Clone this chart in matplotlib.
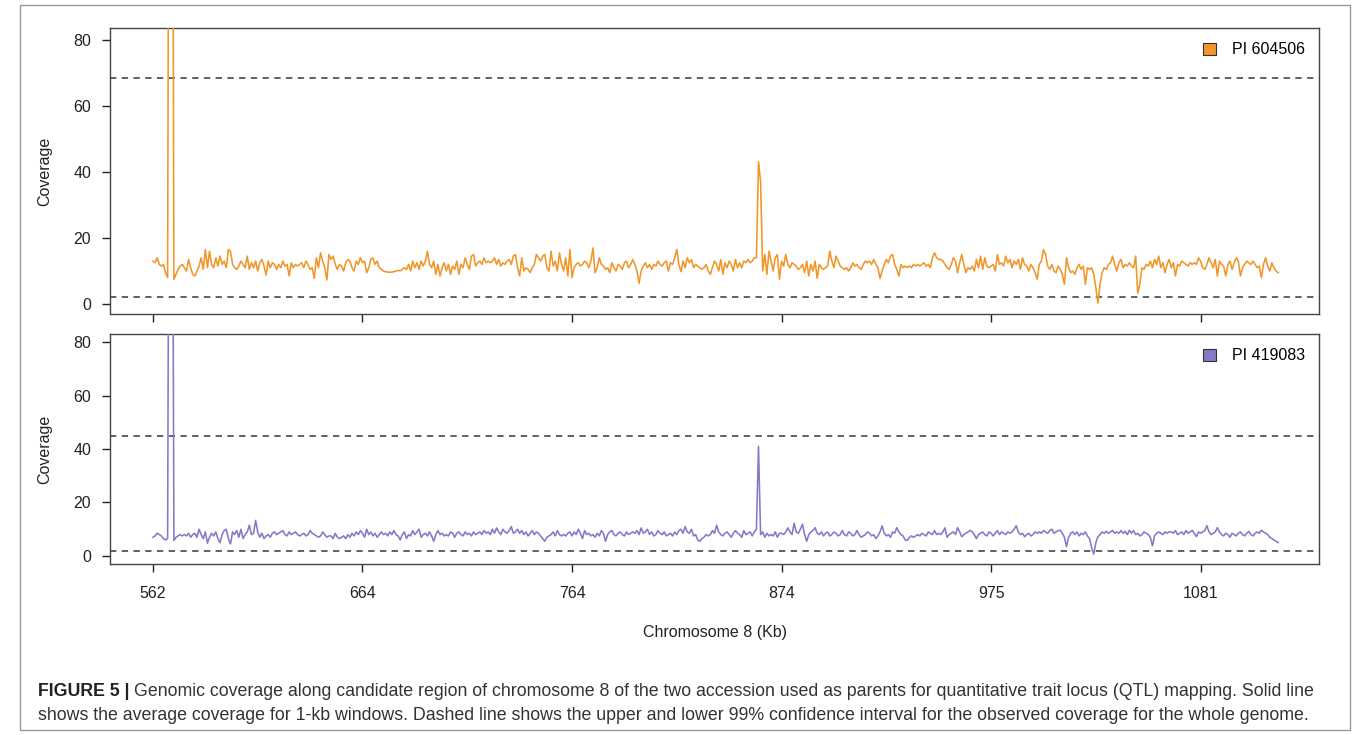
import numpy as np
import matplotlib
matplotlib.use("Agg")
import matplotlib.pyplot as plt
from matplotlib.patches import Patch, Rectangle

plt.rcParams['font.family'] = ['Liberation Sans', 'DejaVu Sans']

# window index ticks and their chromosome positions (kb)
tick_pos = [0, 100, 200, 300, 400, 500]
tick_labels = ['562', '664', '764', '874', '975', '1081']

# average coverage per 1-kb window, PI 604506
cov_604506 = [
    13, 12.5, 14, 12, 11.5, 12, 9.5, 8, 260, 250,
    7.5, 9, 10.5, 11.5, 12, 11, 10, 13.5, 11, 9,
    8.5, 10, 11.5, 14, 10.5, 16.5, 11, 16, 12, 11,
    14, 11.5, 14.5, 12, 13, 11, 16.5, 16, 12, 11,
    10.5, 11.5, 13, 12, 11, 14.5, 10.5, 12.5, 11, 13,
    10, 12.5, 13.5, 11.5, 8.8, 13, 11, 12.5, 12, 10.5,
    12, 11, 13, 11.5, 12, 8.5, 12.5, 11, 12, 11.5,
    12, 12.5, 11, 13, 12, 10.5, 11, 7.8, 14, 11,
    15.5, 13, 11, 7.3, 15, 13.5, 14.5, 12, 10.5, 12,
    11.5, 10, 12.5, 13.5, 13, 11, 10, 13, 12, 14,
    12.5, 13, 9.5, 11, 13.5, 14, 12, 13, 11, 10.5,
    10, 9.8, 9.7, 9.6, 9.7, 9.8, 10, 10.2, 10, 10.5,
    11, 10.5, 12, 10, 13, 11, 12.5, 10.5, 13, 11.5,
    13, 16, 12, 11, 13, 9, 12, 8.5, 11, 12.5,
    10, 12, 9, 11.5, 10.5, 13, 9, 12, 11, 14,
    12, 10.5, 14.5, 15, 11.5, 12.5, 13, 12, 14, 12.5,
    13, 12.5, 13, 14, 12, 13.5, 11.5, 12.5, 12, 13,
    13.5, 12, 14.5, 15, 11, 8.5, 14, 10, 11, 10.5,
    9.5, 11, 12, 15, 14, 13, 14.5, 15, 11, 10,
    16, 11.5, 13, 10, 15.5, 12, 10, 14, 8.5, 16.5,
    8, 11, 12, 12.5, 11.5, 12, 13, 12.5, 11, 13,
    17, 9.5, 11, 14, 12, 11.5, 10.5, 11, 9.5, 12.5,
    11, 10, 12, 11.5, 10.5, 12.5, 13, 11, 12, 13.5,
    12, 10, 6.3, 10, 11.5, 12.5, 11, 12, 10.5, 12,
    11.5, 13, 12, 11.5, 12.5, 13, 10, 12.5, 12, 14,
    16.5, 12, 9.8, 13, 11, 14, 12.5, 13.5, 11, 12,
    11.5, 11, 10.5, 11, 12, 10, 9, 11, 13, 12,
    10, 13.5, 9, 12.5, 11, 13, 12, 10, 13.5, 11,
    12.5, 11, 13, 12.5, 13.5, 12.5, 13, 14, 14, 43,
    37, 10, 15, 9, 16, 13, 10, 14, 15, 7.5,
    13, 11.5, 15, 12, 11, 12.5, 12, 11.5, 10.5, 11,
    12, 9.5, 13, 8.5, 12, 10, 13, 7.8, 12, 11,
    10.5, 11, 11.5, 16, 13, 11, 14.5, 13, 11.5, 11,
    10.5, 11, 10, 11, 12.5, 11.5, 12, 11, 10.5, 12,
    13, 12.5, 13, 12, 13.5, 12, 11, 7.8, 10, 12,
    13.5, 12.5, 14.5, 15, 12, 10.5, 8.5, 12, 11, 11.5,
    11, 11.5, 11, 12, 11.5, 12, 11.5, 12, 12.5, 11.5,
    12, 11, 14, 15.5, 14, 13.5, 13.5, 13, 12, 11,
    10.5, 12, 14, 13, 9.5, 12.5, 15, 12, 9.5, 11,
    10.5, 11.5, 10, 13.5, 11, 14.5, 10.5, 14, 11.5, 11,
    11.5, 12, 10, 15, 12, 12.5, 11.5, 14.5, 12.5, 13.5,
    11, 13, 12, 13.5, 10.5, 14, 12, 11.5, 10, 12,
    11, 9.5, 7.5, 12, 13, 16.5, 15, 11.5, 10.5, 12,
    10, 9.5, 11.5, 10.5, 9, 6, 14, 11, 9.5, 10,
    9, 11, 12, 10.5, 11.5, 6, 11, 10.5, 11, 9,
    5, 0.3, 6, 9.5, 11, 10.5, 12, 12.5, 14.5, 12,
    10, 12.5, 13.5, 11, 12, 11.5, 12.5, 11.5, 11, 14.5,
    3.3, 6, 11, 10.5, 12, 11.5, 13, 11, 13.5, 12,
    14.5, 11, 12.5, 9.5, 12, 13.5, 11, 12.5, 8.5, 12,
    11.5, 13, 12.5, 12, 11.5, 12.5, 12, 12.5, 12, 14,
    13, 11, 10.5, 12, 14, 12.5, 11, 13.5, 8.5, 13,
    12, 11.5, 8.5, 12, 13, 10.5, 12.5, 14, 13, 8.5,
    11, 12, 13, 12.5, 12, 13, 12, 11, 11.5, 8,
    12, 14, 11.5, 10, 12.5, 11, 10, 9.5,
]

# average coverage per 1-kb window, PI 419083
cov_419083 = [
    7, 7.5, 8.5, 8, 7.5, 6.5, 6, 6.5, 250, 240,
    5.8, 7, 7.5, 8, 7.5, 8, 7.5, 8.5, 7, 8,
    8.5, 7, 10, 8, 6.5, 9, 4.8, 7, 8.5, 7.5,
    9, 6.5, 5, 8, 9.5, 10, 6.5, 4.5, 9, 8,
    9.5, 7, 10, 6.5, 8, 9, 11.5, 8, 8.5, 13.3,
    9, 7, 8.5, 6.5, 7.5, 8, 7, 8.5, 9, 8,
    8.5, 9, 9.5, 8, 7.5, 9, 8, 8.5, 9, 8,
    7.5, 8, 8.5, 7.5, 8, 9.5, 8.5, 8, 7.5, 7,
    7.5, 9, 8, 7, 7.5, 7.5, 6.5, 8.5, 7, 6.5,
    7, 7.5, 6.5, 8, 7, 8.5, 7.5, 9, 8, 9.5,
    8.5, 7, 10, 8, 9, 7.5, 8.5, 7, 8, 9,
    8, 8.5, 7.5, 9, 8, 9.5, 8, 7.5, 6, 8,
    9, 6.5, 8, 7.5, 9.5, 8, 9, 10, 7, 8,
    8.5, 7.5, 9, 7.5, 5.5, 8, 9.5, 8, 8.5, 7.5,
    8, 7.5, 9, 8.5, 7, 8.5, 9, 8, 7.5, 9,
    8, 8.5, 7.5, 9, 8, 8.5, 9, 8, 9.5, 8.5,
    9, 8, 10, 8.5, 10.5, 9, 8, 10, 9, 8.5,
    9.5, 11, 8.5, 9, 10, 8.5, 9.5, 8, 9, 7.5,
    8.5, 9.5, 8, 9, 8.5, 7.5, 6.5, 5.5, 7, 7.5,
    8, 9, 7.5, 9.5, 8, 7.5, 8, 7.5, 8.5, 9,
    7.5, 9, 8, 10, 8.5, 6.5, 9.5, 8, 8.5, 7.5,
    8, 7, 8.5, 7.5, 9.5, 8.5, 5.5, 8, 9, 9.5,
    8, 7.5, 8.5, 9, 8, 7.5, 9, 8, 8.5, 9,
    8.5, 9.5, 8, 10.5, 8.5, 9, 10, 8, 9, 7.5,
    8, 9.5, 8.5, 8, 9, 7.5, 8, 8.5, 7.5, 9,
    8, 9.5, 10, 8.5, 11, 9, 8.5, 10, 7.5, 8,
    6, 5.5, 6.5, 7, 8, 7.5, 8, 9.5, 8.5, 11.5,
    9, 8, 7.5, 8.5, 9, 8, 7, 8.5, 9.5, 8.5,
    8, 7, 9.5, 8, 8.5, 9, 7.5, 9, 10, 41,
    8, 9, 7, 8.5, 7.5, 8, 7.5, 9, 7, 8.5,
    8.5, 8, 9, 10.5, 9, 8, 12.2, 9, 8.5, 10,
    11.9, 8, 5.5, 8, 9, 9.5, 10.6, 8.5, 8, 9,
    7.5, 8.5, 9, 7.5, 8, 9, 8.5, 7.5, 8, 9.5,
    8, 7.5, 9, 8.5, 7.5, 8, 9.5, 8, 7, 7.5,
    8, 9, 8.5, 7.5, 8, 6.5, 7.5, 9, 11.3, 8.5,
    7.5, 8, 7, 9, 8.5, 10.6, 9, 8, 7.5, 6,
    5.8, 7, 7.5, 7, 7.5, 8, 7.5, 8.5, 8, 7.5,
    9, 8.5, 8, 9.5, 8, 8.5, 8, 9, 10.5, 7,
    8, 8.5, 9, 8, 10.6, 9, 7.2, 8, 8.5, 9,
    9.6, 9, 8, 6.5, 8, 8.5, 9, 8, 7.5, 9,
    8.5, 7.5, 8.5, 9.5, 8, 9, 8.5, 8, 9, 8.5,
    9, 10, 11.3, 9, 8, 8.5, 7.2, 8, 8.5, 7.5,
    8, 9, 8.5, 9, 8.5, 9.5, 9, 8.5, 9.5, 10,
    8.5, 9, 9.5, 9.6, 8.5, 7, 3.5, 7, 8.5, 9,
    8, 9, 7.5, 8.5, 8, 9, 7.5, 6.5, 3, 0.7,
    5, 7.2, 8, 9, 8.5, 9.2, 8.5, 9, 9.5, 8.5,
    9, 8.5, 9.5, 8.5, 9.2, 8, 9.6, 8.5, 9.5, 8,
    8.5, 7.5, 8, 9, 8.5, 8, 7, 3.8, 7.5, 8.5,
    9, 8.5, 8, 9, 8.5, 9, 9, 8.5, 9.5, 8,
    8.5, 9, 8, 9.5, 8.5, 9, 9.6, 8.5, 7.2, 9,
    8.5, 9, 9.5, 11.3, 9, 8, 8.5, 9, 10.6, 9,
    8, 7.5, 8.5, 8, 7, 8.5, 8, 7.5, 8.5, 9,
    8, 7.5, 8.5, 9.2, 8, 7.5, 8.5, 9, 8.5, 9.6,
    9, 8.5, 8, 7, 6.5, 6, 5.5, 5,
]

# genome-wide 99% confidence interval (lower, upper)
ci_604506 = [2.1, 68.5]
ci_419083 = [1.9, 45.0]

names = ['PI 604506', 'PI 419083']
colors = ['#f0962a', '#8579c8']

W, H = 1360, 735
fig = plt.figure(figsize=(W / 100, H / 100), dpi=100)
ax1 = fig.add_axes([110 / W, 1 - 314 / H, 1209 / W, 286 / H])
ax2 = fig.add_axes([110 / W, 1 - 564 / H, 1209 / W, 230 / H])

panels = [(ax1, cov_604506, ci_604506), (ax2, cov_419083, ci_419083)]
for i, (ax, cov, ci) in enumerate(panels):
    x = np.arange(len(cov))
    ax.plot(x, cov, color=colors[i], lw=1.15, zorder=3)
    for lvl in ci:
        ax.axhline(lvl, color='#555555', lw=1.3, ls=(0, (3.5, 3)), zorder=2)
    ax.set_xlim(-20.5, 556.5)
    ax.set_ylim(-3, 83.5 if i == 0 else 83.0)
    ax.set_yticks([0, 20, 40, 60, 80])
    ax.set_xticks(tick_pos)
    ax.tick_params(direction='out', length=5.5, width=1, labelsize=11.5,
                   colors='#222222')
    ax.tick_params(axis='y', pad=8)
    ax.tick_params(axis='x', pad=10)
    for s in ax.spines.values():
        s.set_color('#444444')
        s.set_linewidth(1.0)
    ax.set_ylabel('Coverage', fontsize=11.5, color='#222222')
    ax.yaxis.set_label_coords(-58 / 1209, 0.5)
    h = [Patch(facecolor=colors[i], edgecolor='#333333', lw=0.8)]
    ax.legend(h, [names[i]], loc='upper right', frameon=False, fontsize=11.5,
              handlelength=0.8, handleheight=0.8, handletextpad=1.0,
              borderaxespad=0.5)

ax1.set_xticklabels([])
ax2.set_xticklabels(tick_labels)

fig.text(715 / W, 1 - 632 / H, 'Chromosome 8 (Kb)', ha='center', va='center',
         fontsize=11.5, color='#222222')

# outer frame
fig.patches.append(Rectangle((20 / W, 5 / H), 1330 / W, 725 / H, fill=False,
                             edgecolor='#9a9a9a', lw=1.0,
                             transform=fig.transFigure))

# caption
cap_font = ['Liberation Sans Narrow', 'Liberation Sans', 'DejaVu Sans']
line1 = ('Genomic coverage along candidate region of chromosome 8 of the two '
         'accession used as parents for quantitative trait locus (QTL) '
         'mapping. Solid line')
line2 = ('shows the average coverage for 1-kb windows. Dashed line shows the '
         'upper and lower 99% confidence interval for the observed coverage '
         'for the whole genome.')
t0 = fig.text(38 / W, 1 - 692 / H, 'FIGURE 5 |', fontsize=12.8,
              fontweight='bold', family=cap_font, va='center', color='#222222')
fig.canvas.draw()
bb = t0.get_window_extent()
fig.text(bb.x1 / W + 5 / W, 1 - 692 / H, line1, fontsize=12.8, family=cap_font,
         va='center', color='#333333')
fig.text(38 / W, 1 - 716 / H, line2, fontsize=12.8, family=cap_font,
         va='center', color='#333333')

fig.savefig('out.png', dpi=100)
